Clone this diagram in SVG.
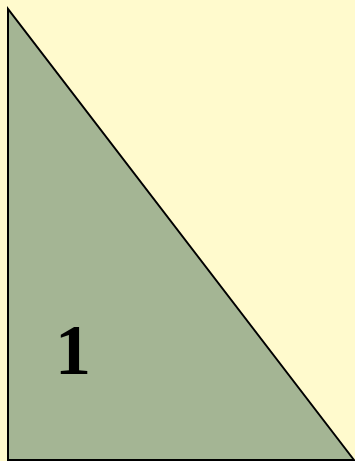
<svg xmlns="http://www.w3.org/2000/svg" width="355" height="461" viewBox="0 0 355 461">
<style>
.bg{fill:#FFFACD}
.tri{fill:#A4B594;stroke:#000;stroke-width:2;stroke-linejoin:miter}
.lbl{font-family:"Liberation Serif",serif;font-weight:bold;font-size:72px;fill:#000}
</style>
<rect class="bg" x="0" y="0" width="355" height="461"/>
<g id="triangle1">
<polygon class="tri" points="8,9 8,460 354,460"/>
<text class="lbl" x="73" y="374" text-anchor="middle">1</text>
</g>
</svg>
